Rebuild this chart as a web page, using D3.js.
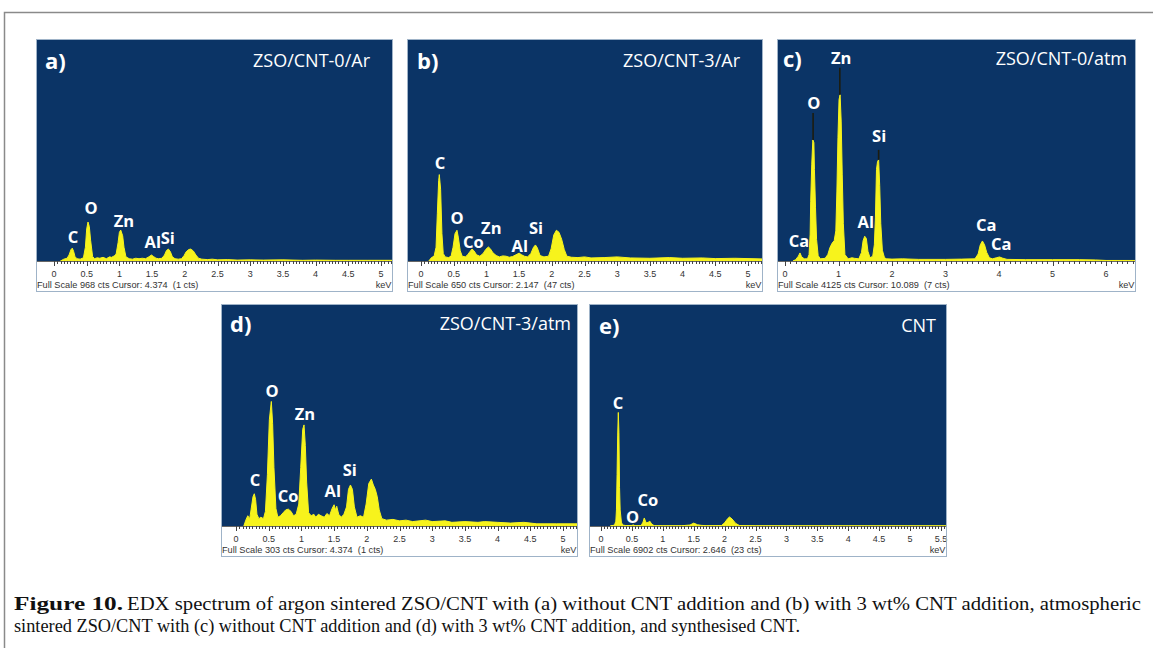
<!DOCTYPE html>
<html>
<head>
<meta charset="utf-8">
<script src="https://cdn.jsdelivr.net/npm/d3@7"></script>
<style>
  body { margin: 0; background: #fff; }
  svg { display: block; }
</style>
</head>
<body>
<div id="fig"></div>
<script>
// ---- data ----
var panelLetters = ['a)', 'b)', 'c)', 'd)', 'e)'];
var panelTitles = ['ZSO/CNT-0/Ar', 'ZSO/CNT-3/Ar', 'ZSO/CNT-0/atm', 'ZSO/CNT-3/atm', 'CNT'];
var fullScaleCts = [968, 650, 4125, 303, 6902];
var footerTexts = [
    'Full Scale 968 cts Cursor: 4.374  (1 cts)',
    'Full Scale 650 cts Cursor: 2.147  (47 cts)',
    'Full Scale 4125 cts Cursor: 10.089  (7 cts)',
    'Full Scale 303 cts Cursor: 4.374  (1 cts)',
    'Full Scale 6902 cts Cursor: 2.646  (23 cts)'
];
var tickLabelsHalf = ['0', '0.5', '1', '1.5', '2', '2.5', '3', '3.5', '4', '4.5', '5'];
var tickLabelsWhole = ['0', '1', '2', '3', '4', '5', '6'];
var tickLabelsE = ['0', '0.5', '1', '1.5', '2', '2.5', '3', '3.5', '4', '4.5', '5', '5.5'];

// spectra: [keV, counts]
var spectrumA = [[0.10,0],[0.15,8],[0.20,12],[0.23,26],[0.26,50],[0.28,56],[0.30,42],[0.32,20],[0.35,10],[0.40,8],[0.45,14],[0.48,60],[0.50,140],[0.52,170],[0.54,150],[0.56,90],[0.59,20],[0.62,10],[0.66,14],[0.70,12],[0.75,16],[0.80,10],[0.85,18],[0.88,16],[0.92,22],[0.95,30],[0.98,80],[1.00,125],[1.02,135],[1.05,110],[1.07,60],[1.10,18],[1.15,10],[1.20,8],[1.25,12],[1.30,10],[1.35,12],[1.40,10],[1.45,18],[1.49,26],[1.52,20],[1.56,12],[1.60,10],[1.65,12],[1.69,26],[1.72,46],[1.75,52],[1.78,40],[1.81,18],[1.85,10],[1.90,8],[1.95,10],[1.99,24],[2.02,40],[2.06,50],[2.09,52],[2.13,44],[2.17,26],[2.21,12],[2.26,8],[2.35,6],[2.42,8],[2.5,5],[2.65,6],[2.8,4],[3.0,5],[3.2,4],[3.5,5],[3.8,3],[4.0,4],[4.3,3],[4.5,3],[4.8,3],[5.18,3]];
var spectrumB = [[0.12,0],[0.16,10],[0.20,14],[0.23,40],[0.25,140],[0.27,235],[0.28,253],[0.30,210],[0.32,80],[0.34,22],[0.37,12],[0.42,10],[0.46,14],[0.49,40],[0.52,80],[0.55,90],[0.57,70],[0.60,30],[0.63,14],[0.68,12],[0.72,20],[0.75,28],[0.78,35],[0.81,30],[0.85,18],[0.90,14],[0.95,22],[0.99,34],[1.03,41],[1.06,36],[1.10,24],[1.15,16],[1.20,12],[1.25,15],[1.30,14],[1.35,11],[1.40,13],[1.45,18],[1.50,23],[1.54,18],[1.58,14],[1.63,12],[1.68,22],[1.72,40],[1.75,47],[1.78,38],[1.82,16],[1.88,12],[1.95,14],[1.99,36],[2.03,76],[2.07,90],[2.11,84],[2.15,64],[2.19,34],[2.23,14],[2.3,11],[2.4,10],[2.5,12],[2.6,9],[2.8,10],[3.0,12],[3.2,9],[3.5,8],[3.8,10],[4.0,8],[4.3,9],[4.5,7],[4.8,8],[5.0,7],[5.23,6]];
var spectrumC = [[0.15,0],[0.20,25],[0.25,90],[0.28,150],[0.31,80],[0.36,40],[0.42,40],[0.45,120],[0.47,500],[0.48,1100],[0.50,1800],[0.52,2250],[0.54,2200],[0.55,1700],[0.57,1000],[0.59,400],[0.62,100],[0.66,40],[0.75,50],[0.80,120],[0.84,250],[0.88,330],[0.92,380],[0.95,560],[0.97,1300],[0.99,2300],[1.01,3000],[1.03,3090],[1.05,2600],[1.07,1600],[1.09,700],[1.12,120],[1.18,40],[1.25,60],[1.30,50],[1.38,40],[1.43,160],[1.46,380],[1.49,460],[1.52,420],[1.55,180],[1.59,60],[1.64,90],[1.67,300],[1.69,800],[1.71,1700],[1.73,1850],[1.75,1880],[1.77,1400],[1.79,700],[1.82,200],[1.86,60],[1.90,40],[2.0,35],[2.2,40],[2.5,30],[3.0,30],[3.3,35],[3.55,40],[3.61,130],[3.65,300],[3.69,372],[3.73,300],[3.77,160],[3.82,60],[3.88,40],[3.95,60],[4.01,75],[4.06,55],[4.15,30],[4.5,25],[5.0,25],[5.5,25],[5.8,20],[6.0,10],[6.56,10]];
var spectrumD = [[0.12,0],[0.15,8],[0.18,14],[0.21,10],[0.23,22],[0.26,40],[0.28,44],[0.30,36],[0.32,16],[0.35,10],[0.38,12],[0.42,10],[0.45,20],[0.48,70],[0.51,145],[0.54,170],[0.56,140],[0.58,80],[0.61,24],[0.64,12],[0.68,14],[0.72,18],[0.76,22],[0.80,23],[0.84,20],[0.88,14],[0.92,16],[0.96,30],[0.99,80],[1.02,132],[1.04,138],[1.06,110],[1.08,60],[1.11,18],[1.15,14],[1.19,16],[1.22,12],[1.26,16],[1.30,14],[1.35,12],[1.39,17],[1.43,14],[1.47,24],[1.50,29],[1.52,22],[1.54,27],[1.57,16],[1.61,12],[1.65,16],[1.69,26],[1.72,50],[1.75,56],[1.78,50],[1.81,26],[1.85,12],[1.90,14],[1.95,12],[1.99,30],[2.03,58],[2.07,64],[2.10,56],[2.13,50],[2.16,40],[2.19,22],[2.23,10],[2.3,8],[2.4,9],[2.5,7],[2.6,8],[2.7,6],[2.9,8],[3.0,6],[3.2,7],[3.3,5],[3.5,6],[3.7,5],[3.8,6],[4.0,5],[4.2,4],[4.4,5],[4.6,3],[4.9,3],[5.22,3]];
var spectrumE = [[0.15,0],[0.20,20],[0.22,40],[0.24,150],[0.25,500],[0.26,1600],[0.27,2800],[0.28,3530],[0.29,2900],[0.30,1200],[0.31,500],[0.33,120],[0.35,30],[0.40,15],[0.50,15],[0.52,35],[0.55,10],[0.65,15],[0.68,120],[0.70,250],[0.73,100],[0.76,110],[0.79,150],[0.82,60],[0.86,10],[1.0,8],[1.3,8],[1.44,30],[1.50,90],[1.56,40],[1.62,20],[1.70,10],[1.95,15],[2.00,100],[2.05,230],[2.08,280],[2.12,220],[2.18,80],[2.24,15],[2.5,8],[3.0,6],[4.0,5],[5.5,5],[5.6,5]];

// thin dark peak tips in panel c: [keV, from cts, to cts]
var tipsC = [[0.525, 2250, 2750], [1.025, 3090, 3590], [1.75, 1880, 2065]];

// element labels: [text, keV, cts]
var labelsA = [['C', 0.29, 108], ['O', 0.566, 234], ['Zn', 1.07, 178], ['Al', 1.51, 87], ['Si', 1.74, 104]];
var labelsB = [['C', 0.29, 289], ['O', 0.55, 128], ['Co', 0.80, 58], ['Zn', 1.075, 99], ['Al', 1.51, 44], ['Si', 1.76, 99]];
var labelsC = [['Zn', 1.05, 3772], ['O', 0.54, 2954], ['Si', 1.76, 2341], ['Al', 1.51, 725], ['Ca', 0.26, 390], ['Ca', 3.76, 669], ['Ca', 4.04, 316]];
var labelsD = [['O', 0.55, 185], ['Zn', 1.055, 154], ['C', 0.29, 63], ['Co', 0.795, 41], ['Al', 1.48, 49], ['Si', 1.74, 77]];
var labelsE = [['C', 0.275, 3855], ['O', 0.51, 280], ['Co', 0.76, 820]];

var captionBold = 'Figure 10.';
var captionLine1 = 'EDX spectrum of argon sintered ZSO/CNT with (a) without CNT addition and (b) with 3 wt% CNT addition, atmospheric';
var captionLine2 = 'sintered ZSO/CNT with (c) without CNT addition and (d) with 3 wt% CNT addition, and synthesised CNT.';

// ---- layout ----
var W = 1153, H = 648;
var plotH = 222, stripH = 31;
var panels = [
    { left: 36,  top: 39,  width: 357, zero: 18, pxPerKeV: 65.4, minor: 0.05, major: 0.5, ticks: tickLabelsHalf, spectrum: spectrumA, labels: labelsA, titleRight: 23, titleY: 21, letterX: 9 },
    { left: 407, top: 39,  width: 356, zero: 14, pxPerKeV: 65.4, minor: 0.05, major: 0.5, ticks: tickLabelsHalf, spectrum: spectrumB, labels: labelsB, titleRight: 23, titleY: 21, letterX: 10 },
    { left: 777, top: 39,  width: 359, zero: 8,  pxPerKeV: 53.5, minor: 0.1,  major: 1,   ticks: tickLabelsWhole, spectrum: spectrumC, labels: labelsC, tips: tipsC, titleRight: 9, titleY: 19, letterX: 6 },
    { left: 221, top: 304, width: 357, zero: 15, pxPerKeV: 65.4, minor: 0.05, major: 0.5, ticks: tickLabelsHalf, spectrum: spectrumD, labels: labelsD, titleRight: 7, titleY: 19, letterX: 9 },
    { left: 589, top: 304, width: 358, zero: 12, pxPerKeV: 61.8, minor: 0.05, major: 0.5, ticks: tickLabelsE, spectrum: spectrumE, labels: labelsE, titleRight: 11, titleY: 21, letterX: 10 }
];

var svg = d3.select('#fig').append('svg')
    .attr('width', W)
    .attr('height', H);

/* outer frame */
svg.append('path')
    .attr('d', 'M4.5,648 V12.5 H1153')
    .attr('fill', 'none')
    .attr('stroke', '#8a8a8a')
    .attr('stroke-width', 1.5);

var drawPanel = function(p, i) {

    var g = svg.append('g')
        .attr('transform', 'translate(' + p.left + ',' + p.top + ')');

    var kMin = -p.zero / p.pxPerKeV,
        kMax = (p.width - p.zero) / p.pxPerKeV;

    var x = d3.scaleLinear().domain([kMin, kMax]).range([0, p.width]);
    var y = d3.scaleLinear().domain([0, fullScaleCts[i]]).range([plotH, 0]);

    /* white strip + blue plot area */
    g.append('rect')
        .attr('x', 0).attr('y', 0)
        .attr('width', p.width).attr('height', plotH + stripH)
        .attr('fill', '#fff');
    g.append('rect')
        .attr('x', 0).attr('y', 0)
        .attr('width', p.width).attr('height', plotH)
        .attr('fill', '#0b3466');

    var clipId = 'clip' + i;
    g.append('clipPath').attr('id', clipId)
        .append('rect').attr('width', p.width).attr('height', plotH);

    var area = d3.area()
        .x(function(d) { return x(d[0]); })
        .y0(plotH)
        .y1(function(d) { return y(d[1]); });

    g.append('path')
        .datum(p.spectrum)
        .attr('clip-path', 'url(#' + clipId + ')')
        .attr('d', area)
        .attr('fill', '#f7f31c')
        .attr('stroke', '#f7f31c')
        .attr('stroke-width', 1);

    if (p.tips) {
        g.selectAll('.tip').data(p.tips)
            .enter().append('line')
            .attr('x1', function(d) { return x(d[0]); })
            .attr('x2', function(d) { return x(d[0]); })
            .attr('y1', function(d) { return y(d[1]); })
            .attr('y2', function(d) { return y(d[2]); })
            .attr('stroke', '#1c1c10')
            .attr('stroke-width', 1.6);
    }

    /* axis: minor + major ticks */
    var nMinor = Math.floor(kMax / p.minor + 1e-6);
    var minorTicks = d3.range(0, nMinor + 1).map(function(k) { return k * p.minor; });
    var ratio = Math.round(p.major / p.minor);

    g.append('line')
        .attr('x1', 0).attr('x2', p.width)
        .attr('y1', plotH + 0.5).attr('y2', plotH + 0.5)
        .attr('stroke', '#666').attr('stroke-width', 1);

    g.selectAll('.mtick').data(minorTicks)
        .enter().append('line')
        .attr('x1', function(d) { return Math.round(x(d)) + 0.5; })
        .attr('x2', function(d) { return Math.round(x(d)) + 0.5; })
        .attr('y1', plotH)
        .attr('y2', function(d, j) { return plotH + (j % ratio === 0 ? 5 : 3); })
        .attr('stroke', '#444')
        .attr('stroke-width', 1);

    g.selectAll('.tlabel').data(p.ticks)
        .enter().append('text')
        .attr('x', function(d) { return x(+d); })
        .attr('y', plotH + 13)
        .attr('text-anchor', 'middle')
        .attr('dominant-baseline', 'central')
        .style('font-family', 'Liberation Sans, Arial, sans-serif')
        .style('font-size', '9px')
        .style('fill', '#333')
        .text(function(d) { return d; });

    g.append('text')
        .attr('x', 1)
        .attr('y', plotH + 24)
        .attr('dominant-baseline', 'central')
        .style('font-family', 'Liberation Sans, Arial, sans-serif')
        .style('font-size', '9.2px')
        .style('fill', '#333')
        .style('white-space', 'pre')
        .text(footerTexts[i]);

    g.append('text')
        .attr('x', p.width - 1.5)
        .attr('y', plotH + 24)
        .attr('text-anchor', 'end')
        .attr('dominant-baseline', 'central')
        .style('font-family', 'Liberation Sans, Arial, sans-serif')
        .style('font-size', '9.2px')
        .style('fill', '#333')
        .text('keV');

    /* element labels */
    g.selectAll('.elabel').data(p.labels)
        .enter().append('text')
        .attr('x', function(d) { return x(d[1]); })
        .attr('y', function(d) { return y(d[2]); })
        .attr('text-anchor', 'middle')
        .attr('dominant-baseline', 'central')
        .style('font-family', 'Open Sans, sans-serif')
        .style('font-weight', 'bold')
        .style('font-size', '16.5px')
        .style('fill', '#fff')
        .text(function(d) { return d[0]; });

    /* panel letter + title */
    g.append('text')
        .attr('x', p.letterX)
        .attr('y', p.titleY)
        .attr('dominant-baseline', 'central')
        .style('font-family', 'Open Sans, sans-serif')
        .style('font-weight', 'bold')
        .style('font-size', '22px')
        .style('fill', '#fff')
        .text(panelLetters[i]);

    g.append('text')
        .attr('x', p.width - p.titleRight)
        .attr('y', p.titleY)
        .attr('text-anchor', 'end')
        .attr('dominant-baseline', 'central')
        .style('font-family', 'Open Sans, sans-serif')
        .style('font-size', '18px')
        .style('fill', '#fff')
        .text(panelTitles[i]);

    /* panel border */
    g.append('rect')
        .attr('x', 0.5).attr('y', 0.5)
        .attr('width', p.width - 1).attr('height', plotH + stripH - 1)
        .attr('fill', 'none')
        .attr('stroke', '#9fb3c8')
        .attr('stroke-width', 1);
}

panels.forEach(drawPanel);

/* caption */
var cap = svg.append('g')
    .style('font-family', 'Liberation Serif, Times New Roman, serif')
    .style('font-size', '19px')
    .style('fill', '#111');

cap.append('text')
    .attr('x', 14).attr('y', 610)
    .style('font-weight', 'bold')
    .attr('textLength', 109)
    .attr('lengthAdjust', 'spacingAndGlyphs')
    .text(captionBold);

cap.append('text')
    .attr('x', 127).attr('y', 610)
    .attr('textLength', 1014)
    .attr('lengthAdjust', 'spacingAndGlyphs')
    .text(captionLine1);

cap.append('text')
    .attr('x', 14).attr('y', 632)
    .attr('textLength', 786)
    .attr('lengthAdjust', 'spacingAndGlyphs')
    .text(captionLine2);
</script>
</body>
</html>
